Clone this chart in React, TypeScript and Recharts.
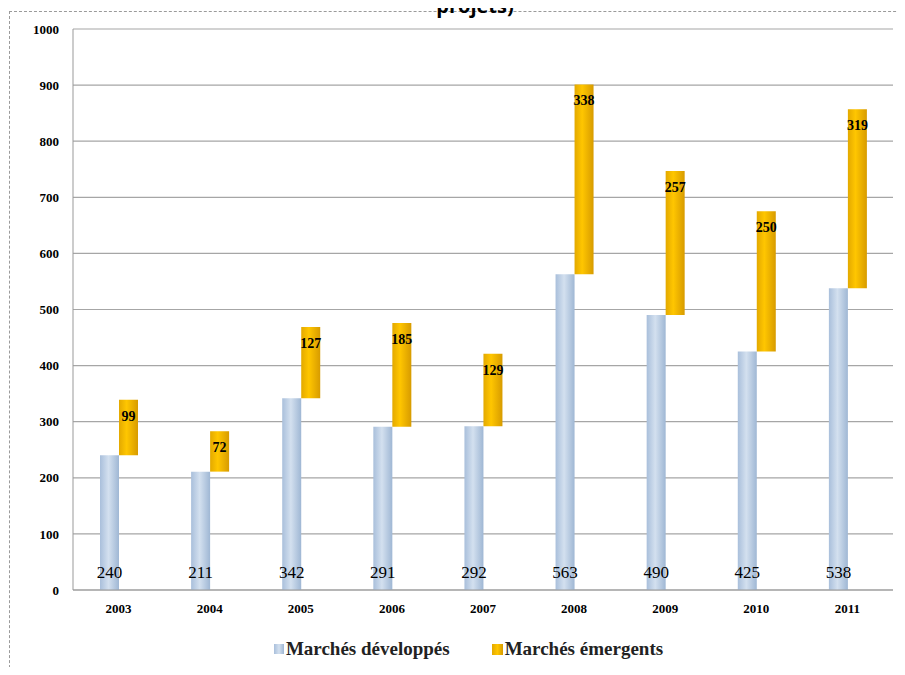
import React from 'react'
import { BarChart, Bar, XAxis, YAxis, CartesianGrid, LabelList } from 'recharts'

const years = ['2003', '2004', '2005', '2006', '2007', '2008', '2009', '2010', '2011']
const developpes = [240, 211, 342, 291, 292, 563, 490, 425, 538]
const emergents = [99, 72, 127, 185, 129, 338, 257, 250, 319]
const yTicks = [0, 100, 200, 300, 400, 500, 600, 700, 800, 900, 1000]

const data = years.map((year, i) => ({
  year,
  dev: developpes[i],
  em: emergents[i],
  range: [developpes[i], developpes[i] + emergents[i]],
}))

const serif = '"Liberation Serif", "DejaVu Serif", serif'

export default function App() {
  return (
    <div style={{ position: 'relative', width: 905, height: 675, margin: -8, background: '#fff', overflow: 'hidden' }}>
      {/* dashed frame, runs off the right and bottom edges */}
      <div
        style={{
          position: 'absolute',
          left: 9,
          top: 11,
          width: 960,
          height: 720,
          border: '1px dashed #9a9a9a',
        }}
      />
      <div
        style={{
          position: 'absolute',
          top: -6,
          left: 0,
          width: 950,
          textAlign: 'center',
          fontFamily: '"Open Sans", "Liberation Sans", sans-serif',
          fontWeight: 700,
          fontSize: 20,
          lineHeight: '24px',
          color: '#000',
        }}
      >
        projets)
      </div>

      <div style={{ position: 'absolute', left: 0, top: 0 }}>
        <BarChart
          width={905}
          height={675}
          data={data}
          margin={{ top: 29, right: 12, left: 0, bottom: 55 }}
          barGap={0}
        >
          <defs>
            <linearGradient id="blueFill" x1="0" y1="0" x2="1" y2="0">
              <stop offset="0%" stopColor="#a9bfdb" />
              <stop offset="45%" stopColor="#d3e0ef" />
              <stop offset="100%" stopColor="#9fb7d4" />
            </linearGradient>
            <linearGradient id="yellowFill" x1="0" y1="0" x2="1" y2="0">
              <stop offset="0%" stopColor="#e3a900" />
              <stop offset="40%" stopColor="#ffc600" />
              <stop offset="100%" stopColor="#d79b00" />
            </linearGradient>
          </defs>

          <CartesianGrid vertical={false} stroke="#a6a6a6" strokeWidth={1.2} />

          <XAxis
            dataKey="year"
            stroke="#999"
            tickLine={false}
            tickSize={6}
            tickMargin={8}
            height={30}
            tick={{ fill: '#000', fontFamily: serif, fontWeight: 700, fontSize: 13 }}
          />
          <YAxis
            domain={[0, 1000]}
            ticks={yTicks}
            stroke="#999"
            tickLine={false}
            width={73}
            tickSize={6}
            tickMargin={8}
            tick={{ fill: '#000', fontFamily: serif, fontWeight: 700, fontSize: 13 }}
          />

          <Bar dataKey="dev" name="Marchés développés" fill="url(#blueFill)" barSize={19} isAnimationActive={false}>
            <LabelList
              dataKey="dev"
              position="insideBottom"
              offset={12}
              fill="#000"
              style={{ fontFamily: serif, fontSize: 17 }}
            />
          </Bar>
          <Bar dataKey="range" name="Marchés émergents" fill="url(#yellowFill)" barSize={19} isAnimationActive={false}>
            <LabelList
              dataKey="em"
              position="insideTop"
              offset={11}
              fill="#000"
              style={{ fontFamily: serif, fontSize: 14, fontWeight: 700 }}
            />
          </Bar>
        </BarChart>
      </div>

      {/* legend */}
      <div
        style={{
          position: 'absolute',
          top: 638,
          left: 0,
          width: 905,
          display: 'flex',
          justifyContent: 'center',
          gap: 42,
          paddingLeft: 32,
          boxSizing: 'border-box',
          fontFamily: serif,
          fontSize: 19,
          fontWeight: 700,
          color: '#222',
        }}
      >
        <span style={{ display: 'flex', alignItems: 'center' }}>
          <span style={{ width: 10, height: 10, background: 'linear-gradient(90deg,#a9bfdb,#d3e0ef,#9fb7d4)', marginRight: 2 }} />
          Marchés développés
        </span>
        <span style={{ display: 'flex', alignItems: 'center' }}>
          <span style={{ width: 11, height: 11, background: 'linear-gradient(90deg,#e3a900,#ffc600,#d79b00)', marginRight: 2 }} />
          Marchés émergents
        </span>
      </div>
    </div>
  )
}
